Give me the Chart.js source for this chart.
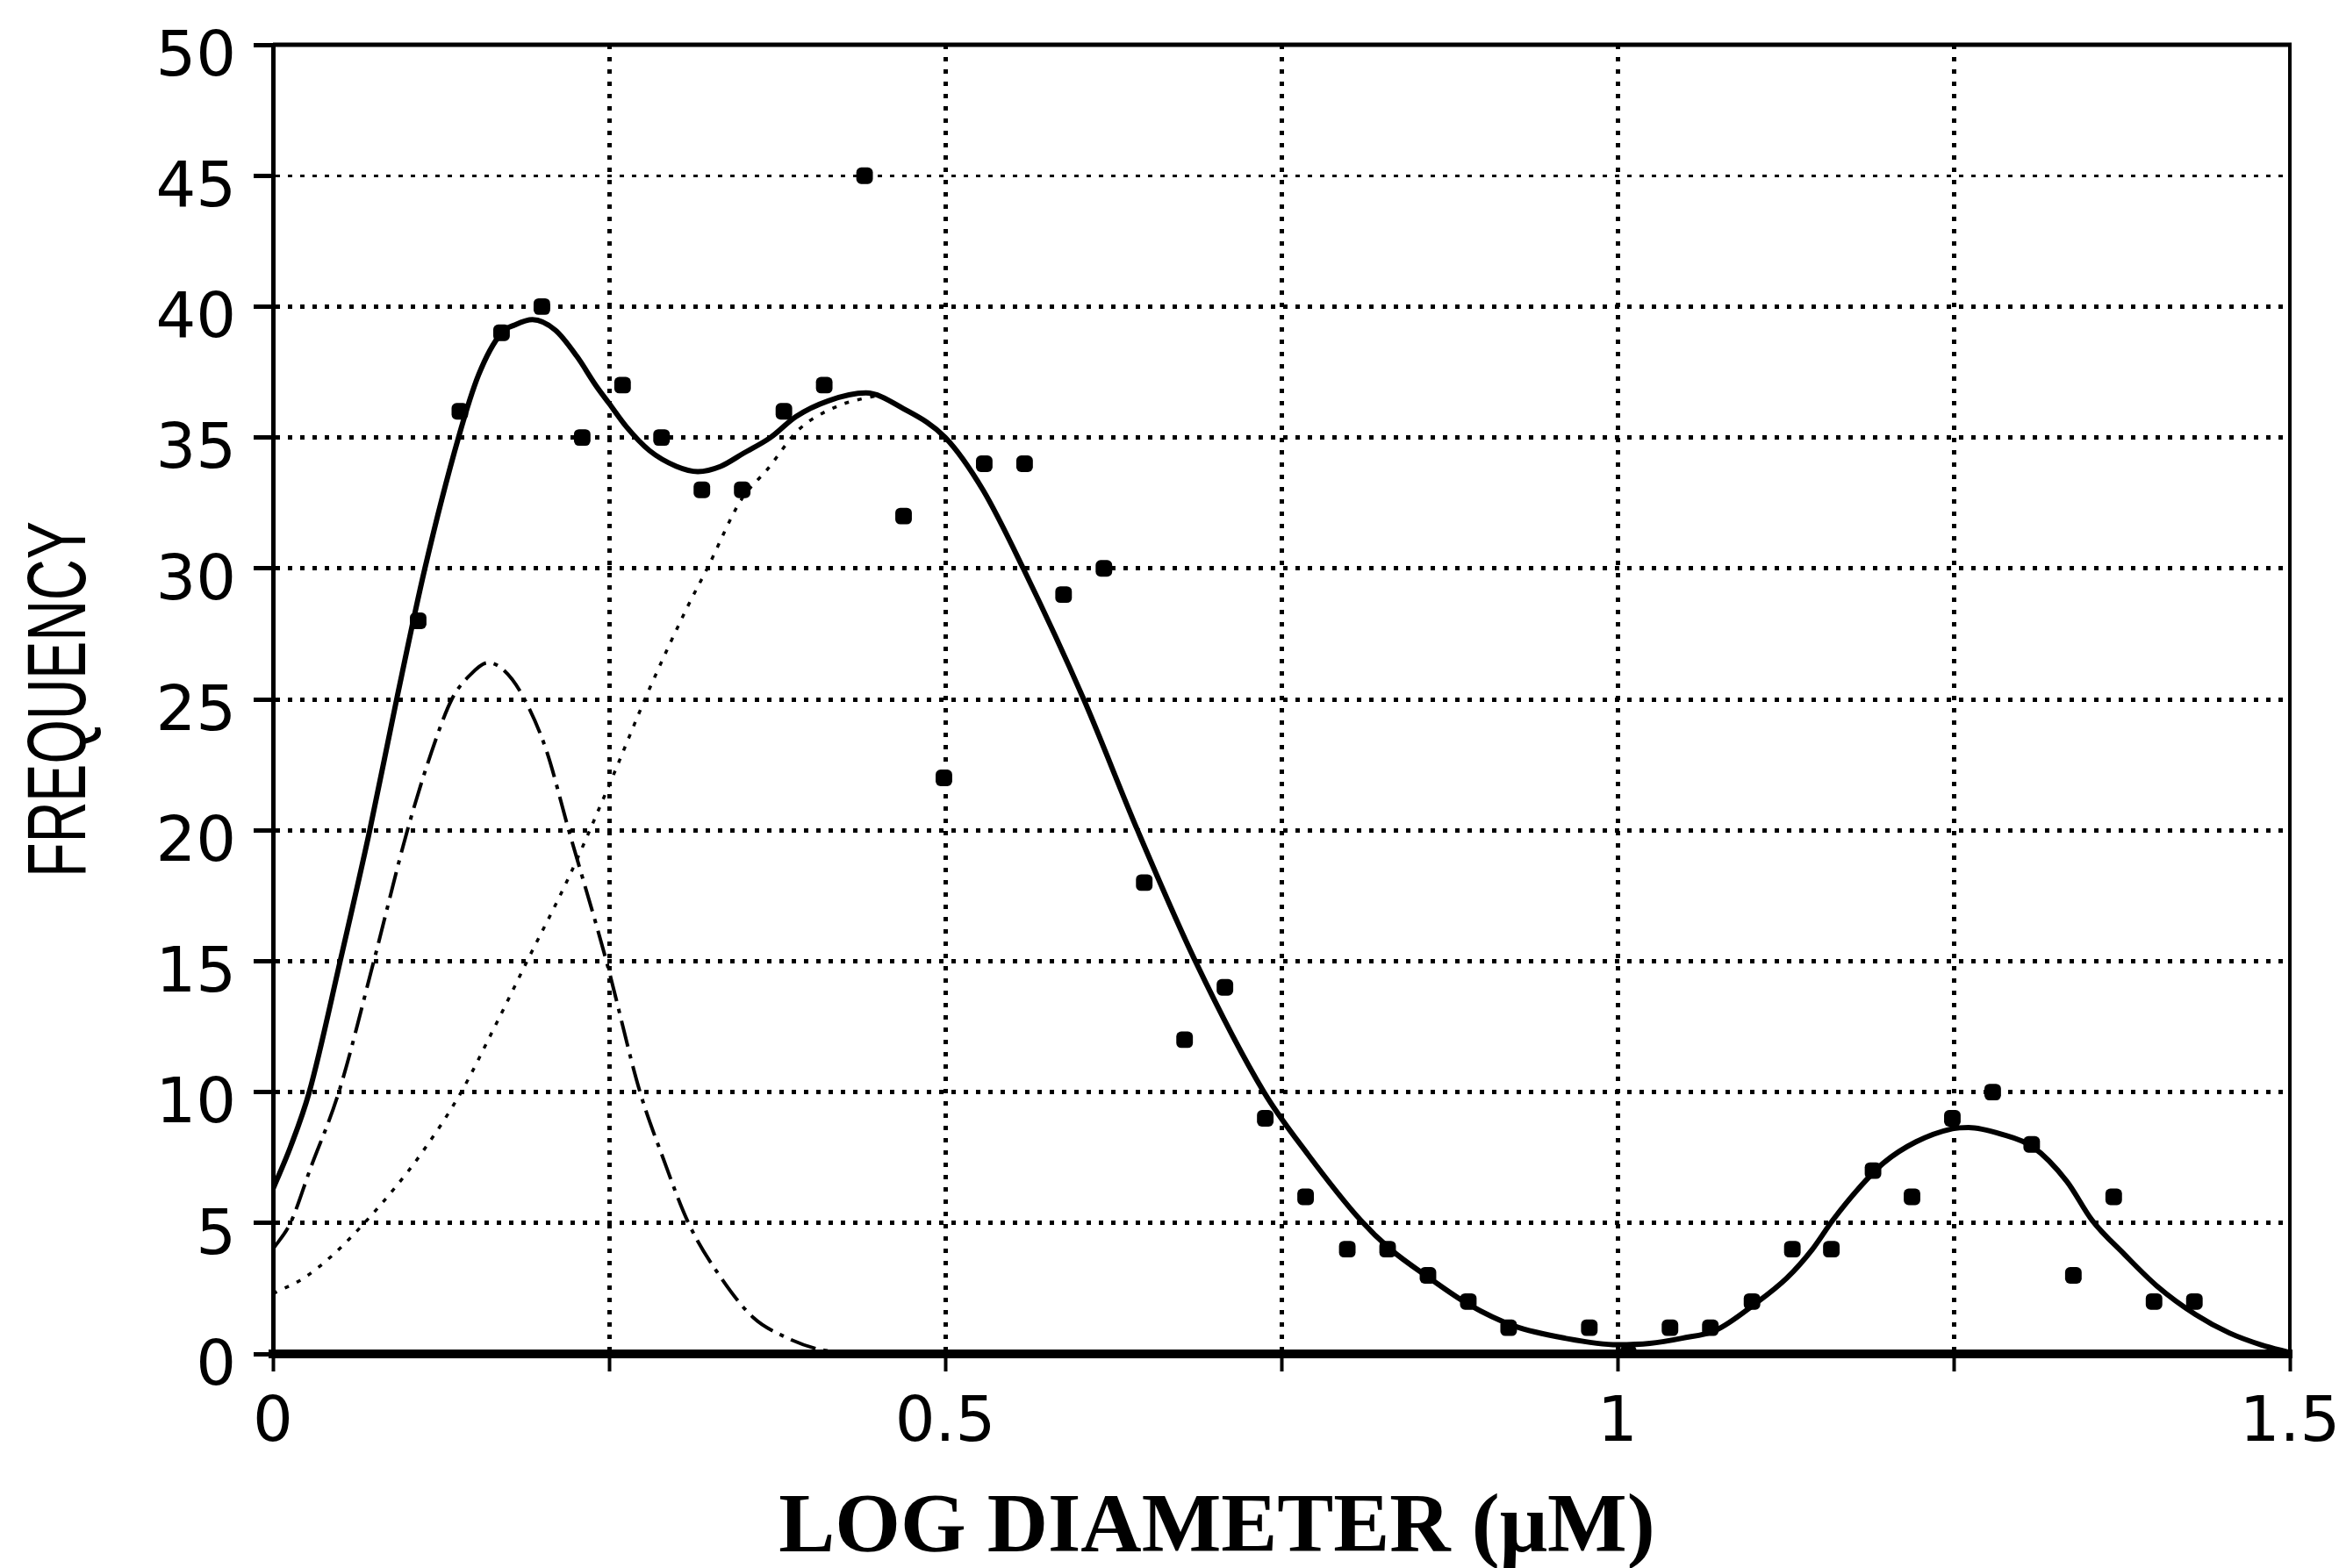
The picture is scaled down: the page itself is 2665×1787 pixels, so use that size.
<!DOCTYPE html>
<html>
<head>
<meta charset="utf-8">
<title>Frequency vs log diameter</title>
<script src="https://cdn.jsdelivr.net/npm/chart.js@4.4.1/dist/chart.umd.min.js"></script>
<style>
  html, body { margin: 0; padding: 0; background: #fff; }
  canvas { display: block; }
</style>
</head>
<body>
<canvas id="grafico" width="2665" height="1787"></canvas>
<script>
// measured frequencies (points)
const pointX = [0.108, 0.139, 0.170, 0.200, 0.230, 0.260, 0.289, 0.319, 0.349, 0.380, 0.410, 0.440, 0.469, 0.499, 0.529, 0.559, 0.588, 0.618, 0.648, 0.678, 0.708, 0.738, 0.768, 0.799, 0.829, 0.859, 0.889, 0.919, 0.979, 1.008, 1.039, 1.069, 1.100, 1.130, 1.159, 1.190, 1.219, 1.249, 1.279, 1.308, 1.339, 1.369, 1.399, 1.429];
const pointY = [28, 36, 39, 40, 35, 37, 35, 33, 33, 36, 37, 45, 32, 22, 34, 34, 29, 30, 18, 12, 14, 9, 6, 4, 4, 3, 2, 1, 1, 0, 1, 1, 2, 4, 4, 7, 6, 9, 10, 8, 3, 6, 2, 2];

// fitted total (solid line)
const fitX = [0, 0.013, 0.027, 0.050, 0.072, 0.092, 0.113, 0.138, 0.153, 0.170, 0.180, 0.193, 0.210, 0.226, 0.240, 0.250, 0.263, 0.280, 0.300, 0.316, 0.333, 0.350, 0.370, 0.389, 0.413, 0.441, 0.469, 0.500, 0.528, 0.558, 0.603, 0.643, 0.686, 0.737, 0.770, 0.809, 0.831, 0.860, 0.889, 0.923, 0.961, 1.000, 1.024, 1.048, 1.073, 1.102, 1.126, 1.145, 1.160, 1.179, 1.198, 1.222, 1.249, 1.261, 1.285, 1.309, 1.334, 1.353, 1.377, 1.401, 1.430, 1.455, 1.479, 1.500];
const fitY = [6.3, 7.9, 10, 15, 20, 25, 30, 35, 37.4, 39.0, 39.3, 39.5, 39.1, 38.1, 37.0, 36.3, 35.4, 34.5, 33.9, 33.7, 33.9, 34.4, 35.0, 35.8, 36.4, 36.7, 36.1, 35.0, 33.0, 30, 25, 20, 15, 10, 7.6, 5.1, 4.0, 2.9, 1.9, 1.07, 0.6, 0.35, 0.4, 0.6, 0.9, 1.9, 2.9, 4.0, 5.1, 6.3, 7.3, 8.1, 8.6, 8.65, 8.4, 7.9, 6.6, 5.1, 3.8, 2.6, 1.5, 0.8, 0.34, 0.05];

// first component (dash-dot)
const comp1X = [0, 0.013, 0.028, 0.049, 0.075, 0.100, 0.118, 0.133, 0.146, 0.160, 0.172, 0.185, 0.203, 0.220, 0.248, 0.273, 0.290, 0.309, 0.332, 0.357, 0.380, 0.404, 0.430, 0.450];
const comp1Y = [4.0, 5, 7.1, 10, 15, 20, 23.0, 25, 25.9, 26.4, 26.1, 25.2, 23.1, 20, 15, 10, 7.5, 5, 3, 1.4, 0.67, 0.2, 0.03, 0];

// second component (dotted)
const comp2X = [0, 0.023, 0.045, 0.068, 0.090, 0.111, 0.140, 0.165, 0.189, 0.220, 0.249, 0.280, 0.308, 0.323, 0.348, 0.368, 0.391, 0.420, 0.440, 0.450];
const comp2Y = [2.3, 2.9, 3.8, 5.0, 6.3, 7.7, 10, 12.5, 15, 18.2, 21.6, 25.4, 28.5, 30, 32.6, 33.8, 35.3, 36.2, 36.5, 36.6];

// axes
const xLabelValues = [0, 0.5, 1, 1.5];
const xTitle = "LOG DIAMETER (\u03bcM)";
const yTitle = "FREQUENCY";

function pairs(xs, ys) {
  return xs.map((x, i) => ({ x: x, y: ys[i] }));
}

// frame on top/right and the two axis titles
const frameAndTitles = {
  id: "frameAndTitles",
  afterDraw(chart) {
    const ctx = chart.ctx;
    const a = chart.chartArea;
    ctx.save();
    ctx.strokeStyle = "#000";
    ctx.lineWidth = 5;
    ctx.beginPath();
    ctx.moveTo(a.left, a.top);
    ctx.lineTo(a.right + 2, a.top);
    ctx.stroke();
    ctx.lineWidth = 4;
    ctx.beginPath();
    ctx.moveTo(a.right, a.top);
    ctx.lineTo(a.right, a.bottom);
    ctx.stroke();

    // narrow rotated y title
    ctx.fillStyle = "#000";
    ctx.translate(71, (a.top + a.bottom) / 2);
    ctx.rotate(-Math.PI / 2);
    ctx.scale(0.68, 1);
    ctx.font = '95px "Liberation Sans"';
    ctx.textAlign = "center";
    ctx.textBaseline = "middle";
    ctx.fillText(yTitle, 0, 0);
    ctx.restore();

    ctx.save();
    ctx.fillStyle = "#000";
    ctx.font = 'bold 96px "Liberation Serif"';
    ctx.textAlign = "center";
    ctx.textBaseline = "alphabetic";
    ctx.fillText(xTitle, a.left + (a.right - a.left) * 0.468, chart.height - 19);
    ctx.restore();
  }
};

document.addEventListener("DOMContentLoaded", function () {
  const ctx = document.getElementById("grafico").getContext("2d");
  Chart.defaults.font.family = '"DejaVu Sans"';
  Chart.defaults.color = "#000";

  new Chart(ctx, {
    type: "scatter",
    data: {
      datasets: [
        {
          label: "Frequency",
          data: pairs(pointX, pointY),
          showLine: false,
          pointStyle: "rectRounded",
          pointRadius: 11,
          pointBackgroundColor: "#000",
          pointBorderWidth: 0
        },
        {
          label: "Fit",
          data: pairs(fitX, fitY),
          showLine: true,
          borderColor: "#000",
          borderWidth: 6,
          pointRadius: 0,
          cubicInterpolationMode: "monotone"
        },
        {
          label: "Component 1",
          data: pairs(comp1X, comp1Y),
          showLine: true,
          borderColor: "#000",
          borderWidth: 4,
          borderDash: [30, 9, 5, 9],
          pointRadius: 0,
          cubicInterpolationMode: "monotone"
        },
        {
          label: "Component 2",
          data: pairs(comp2X, comp2Y),
          showLine: true,
          borderColor: "#000",
          borderWidth: 3.5,
          borderDash: [5, 10],
          pointRadius: 0,
          cubicInterpolationMode: "monotone"
        }
      ]
    },
    options: {
      responsive: false,
      animation: false,
      layout: { padding: { top: 51, right: 56, left: 0, bottom: 0 } },
      plugins: {
        legend: { display: false },
        tooltip: { enabled: false }
      },
      scales: {
        x: {
          type: "linear",
          min: 0,
          max: 1.5,
          afterFit: function (scale) {
            scale.height = 244;
            scale.paddingLeft = 0;
            scale.paddingRight = 0;
          },
          ticks: {
            stepSize: 0.25,
            autoSkip: false,
            maxRotation: 0,
            padding: 17,
            font: { size: 72 },
            callback: v => (xLabelValues.includes(v) ? String(v) : "")
          },
          grid: {
            color: c => (c.tick && (c.tick.value === 0 || c.tick.value === 1.5) ? "transparent" : "#000"),
            lineWidth: 5,
            tickLength: 20,
            tickColor: "#000",
            tickWidth: 4
          },
          border: { display: true, color: "#000", width: 10, dash: [5, 9], z: 1 }
        },
        y: {
          type: "linear",
          min: 0,
          max: 50,
          afterFit: function (scale) {
            scale.width = 311;
            scale.paddingTop = 0;
            scale.paddingBottom = 0;
          },
          ticks: {
            stepSize: 5,
            padding: 20,
            labelOffset: 16,
            font: { size: 72 }
          },
          grid: {
            color: c => (c.tick && (c.tick.value === 0 || c.tick.value === 50) ? "transparent" : "#000"),
            lineWidth: c => (c.tick && c.tick.value === 45 ? 3 : 5),
            tickLength: 22,
            tickColor: "#000",
            tickWidth: 5
          },
          border: { display: true, color: "#000", width: 5, dash: [5, 9] }
        }
      }
    },
    plugins: [frameAndTitles]
  });
});
</script>
</body>
</html>
